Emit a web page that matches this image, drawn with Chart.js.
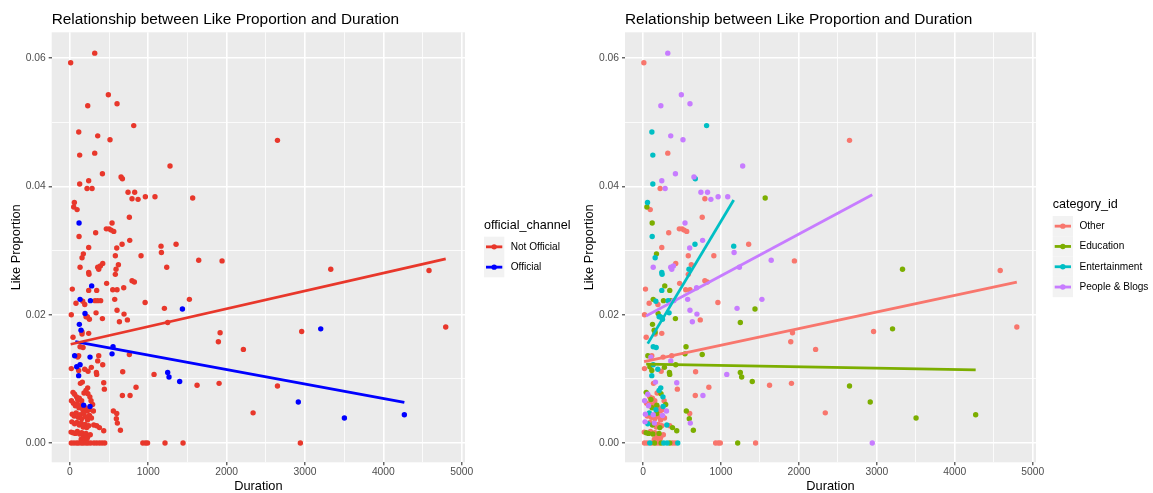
<!DOCTYPE html>
<html>
<head>
<meta charset="utf-8">
<title>Like Proportion vs Duration</title>
<script src="https://cdn.jsdelivr.net/npm/chart.js@4.4.1/dist/chart.umd.min.js"></script>
<style>
  body { margin: 0; background: #ffffff; }
  .wrap { position: relative; width: 1153px; height: 493px; }
  canvas { position: absolute; top: 0; }
</style>
</head>
<body>
<div class="wrap">
  <canvas id="byChannel" width="580" height="493" style="left:0"></canvas>
  <canvas id="byCategory" width="573" height="493" style="left:580px"></canvas>
</div>
<script>
// video duration (seconds) and share of likes per view, one entry per video
const duration = [
  10, 317, 491, 602, 228, 815, 113, 355, 512, 2649,
  125, 317, 1278, 415, 653, 670, 240, 125, 219, 283,
  742, 827, 793, 870, 963, 1086, 1567, 57, 49, 92,
  117, 759, 538, 329, 117, 465, 500, 526, 560, 764,
  240, 598, 666, 1163, 1355, 172, 155, 580, 619, 1168,
  908, 1644, 1942, 130, 240, 244, 355, 389, 419, 368,
  589, 580, 1236, 31, 342, 469, 240, 547, 602, 687,
  793, 823, 278, 130, 262, 78, 164, 321, 355, 393,
  572, 960, 1525, 1206, 1436, 18, 193, 206, 249, 223,
  334, 415, 602, 691, 734, 632, 1248, 121, 142, 155,
  155, 240, 40, 1917, 1895, 2214, 130, 168, 551, 538,
  61, 112, 100, 257, 368, 355, 759, 18, 87, 130,
  112, 112, 189, 232, 274, 338, 342, 419, 674, 1074,
  1248, 1265, 1401, 1623, 1904, 2649, 134, 159, 227, 432,
  440, 844, 670, 768, 2338, 2915, 176, 257, 555, 598,
  593, 606, 645, 432, 4583, 3329, 4796, 2958, 3201, 3503,
  4268, 2941, 190,
  40, 60, 85, 100, 120, 150, 180, 205, 230, 255,
  270, 290, 20, 45, 70, 95, 115, 140, 165, 195,
  220, 245, 300, 30, 55, 80, 105, 130, 150, 175,
  200, 225, 250, 275, 25, 60, 90, 120, 145, 170,
  195, 215, 240, 305, 342, 377, 15, 40, 70, 95,
  125, 150, 180, 205, 230, 260, 145, 170, 195, 220,
  18, 52, 86, 112, 146, 172, 206, 232, 266, 308,
  342, 377, 411, 445, 931, 965, 991, 1214, 1444
];

const likeProportion = [
  0.0593, 0.0608, 0.0543, 0.0529, 0.0526, 0.0495, 0.0485, 0.0479, 0.0473, 0.0472,
  0.0449, 0.0452, 0.0432, 0.0420, 0.0415, 0.0412, 0.0409, 0.0404, 0.0397, 0.0397,
  0.0391, 0.0391, 0.0381, 0.0380, 0.0384, 0.0384, 0.0382, 0.0375, 0.0368, 0.0364,
  0.0343, 0.0352, 0.0343, 0.0328, 0.0322, 0.0334, 0.0334, 0.0332, 0.0330, 0.0316,
  0.0305, 0.0304, 0.0310, 0.0307, 0.0310, 0.0295, 0.0289, 0.0292, 0.0278, 0.0297,
  0.0292, 0.0285, 0.0284, 0.0274, 0.0266, 0.0263, 0.0274, 0.0276, 0.0280, 0.0271,
  0.0271, 0.0263, 0.0274, 0.0240, 0.0238, 0.0249, 0.0238, 0.0239, 0.0239, 0.0242,
  0.0253, 0.0251, 0.0245, 0.0224, 0.0222, 0.0218, 0.0221, 0.0222, 0.0222, 0.0222,
  0.0224, 0.0219, 0.0224, 0.0210, 0.0209, 0.0200, 0.0202, 0.0197, 0.0193, 0.0197,
  0.0203, 0.0194, 0.0207, 0.0201, 0.0192, 0.0189, 0.0188, 0.0185, 0.0176, 0.0173,
  0.0170, 0.0171, 0.0165, 0.0172, 0.0158, 0.0146, 0.0150, 0.0149, 0.0150, 0.0139,
  0.0136, 0.0136, 0.0134, 0.0134, 0.0136, 0.0128, 0.0138, 0.0116, 0.0119, 0.0122,
  0.0113, 0.0105, 0.0115, 0.0112, 0.0118, 0.0110, 0.0107, 0.0122, 0.0111, 0.0107,
  0.0110, 0.0103, 0.0096, 0.0090, 0.0093, 0.0089, 0.0093, 0.0095, 0.0086, 0.0094,
  0.0084, 0.0087, 0.0074, 0.0074, 0.0047, 0.0064, 0.0059, 0.0057, 0.0050, 0.0046,
  0.0038, 0.0031, 0.0020, 0.0019, 0.0269, 0.0271, 0.0181, 0.0174, 0.0178, 0.0039,
  0.0044, 0, 0.0216,
  0.0079, 0.0076, 0.0072, 0.0068, 0.0070, 0.0066, 0.0078, 0.0082, 0.0077, 0.0072,
  0.0066, 0.0060, 0.0066, 0.0062, 0.0058, 0.0061, 0.0055, 0.0058, 0.0052, 0.0055,
  0.0050, 0.0052, 0.0050, 0.0045, 0.0042, 0.0047, 0.0040, 0.0044, 0.0038, 0.0046,
  0.0041, 0.0036, 0.0043, 0.0039, 0.0033, 0.0030, 0.0032, 0.0028, 0.0031, 0.0025,
  0.0029, 0.0024, 0.0027, 0.0028, 0.0027, 0.0024, 0.0017, 0.0016, 0.0015, 0.0018,
  0.0014, 0.0016, 0.0012, 0.0015, 0.0010, 0.0013, 0.0006, 0.0008, 0.0005, 0.0007,
  0, 0, 0, 0, 0, 0, 0, 0, 0, 0,
  0, 0, 0, 0, 0, 0, 0, 0, 0
];

// 0 = Not Official, 1 = Official
const official = [
  0, 0, 0, 0, 0, 0, 0, 0, 0, 0,
  0, 0, 0, 0, 0, 0, 0, 0, 0, 0,
  0, 0, 0, 0, 0, 0, 0, 0, 0, 0,
  1, 0, 0, 0, 0, 0, 0, 0, 0, 0,
  0, 0, 0, 0, 0, 0, 0, 0, 0, 0,
  0, 0, 0, 0, 0, 0, 0, 0, 0, 0,
  0, 0, 0, 0, 0, 0, 0, 0, 0, 0,
  0, 0, 1, 1, 1, 0, 0, 0, 0, 0,
  0, 0, 0, 0, 1, 0, 1, 0, 0, 0,
  0, 0, 0, 0, 0, 0, 0, 1, 1, 0,
  0, 0, 0, 0, 0, 0, 0, 0, 1, 1,
  1, 0, 0, 1, 0, 0, 0, 0, 1, 1,
  0, 1, 0, 0, 0, 0, 0, 0, 0, 0,
  1, 1, 1, 0, 0, 0, 0, 0, 0, 0,
  0, 0, 0, 0, 0, 1, 1, 1, 0, 0,
  0, 0, 0, 0, 0, 0, 0, 0, 1, 1,
  1, 0, 0,
  0, 0, 0, 0, 0, 0, 0, 0, 0, 0,
  0, 0, 0, 0, 0, 0, 0, 0, 0, 0,
  0, 0, 0, 0, 0, 0, 0, 0, 0, 0,
  0, 0, 0, 0, 0, 0, 0, 0, 0, 0,
  0, 0, 0, 0, 0, 0, 0, 0, 0, 0,
  0, 0, 0, 0, 0, 0, 0, 0, 0, 0,
  0, 0, 0, 0, 0, 0, 0, 0, 0, 0,
  0, 0, 0, 0, 0, 0, 0, 0, 0
];

// index into categoryLevels
const categoryId = [
  0, 3, 3, 3, 3, 2, 2, 3, 3, 0,
  2, 0, 3, 3, 3, 2, 3, 2, 0, 3,
  3, 3, 0, 3, 3, 3, 1, 2, 1, 0,
  1, 0, 3, 0, 2, 0, 0, 0, 0, 3,
  0, 3, 2, 2, 0, 1, 2, 0, 0, 3,
  0, 3, 0, 3, 2, 2, 3, 3, 0, 3,
  2, 0, 3, 0, 1, 0, 2, 0, 0, 3,
  0, 0, 1, 1, 1, 0, 2, 2, 1, 3,
  3, 0, 3, 3, 1, 0, 1, 2, 2, 2,
  2, 1, 3, 3, 0, 3, 1, 1, 1, 1,
  0, 0, 0, 0, 0, 0, 2, 2, 1, 1,
  1, 0, 3, 0, 0, 3, 1, 0, 1, 2,
  1, 2, 2, 0, 1, 1, 1, 1, 0, 3,
  1, 1, 1, 0, 0, 1, 0, 3, 2, 3,
  0, 0, 0, 3, 0, 1, 1, 2, 1, 0,
  1, 3, 1, 1, 0, 1, 0, 0, 1, 1,
  1, 3, 0,
  1, 3, 0, 1, 0, 0, 0, 2, 1, 2,
  0, 1, 3, 0, 3, 0, 1, 0, 2, 0,
  0, 0, 3, 3, 0, 2, 0, 3, 0, 1,
  0, 0, 3, 0, 3, 2, 0, 1, 3, 0,
  0, 1, 0, 2, 0, 1, 0, 1, 1, 0,
  1, 0, 0, 1, 0, 0, 0, 0, 0, 0,
  0, 0, 2, 0, 1, 0, 0, 1, 2, 2,
  1, 0, 0, 2, 0, 0, 0, 1, 0
];

const channelLevels = ['Not Official', 'Official'];
const channelColors = ['#e8372b', '#0000ff'];
const categoryLevels = ['Other', 'Education', 'Entertainment', 'People & Blogs'];
const categoryColors = ['#F8766D', '#7CAE00', '#00BFC4', '#C77CFF'];

// lm fit lines, start and end of each group's duration range
const channelFitX = [[10, 4796], [69, 4268]];
const channelFitY = [[0.0154, 0.0287], [0.0158, 0.00635]];
const categoryFitX = [[13, 4796], [40, 4268], [60, 1163], [38, 2941]];
const categoryFitY = [[0.0127, 0.0251], [0.0123, 0.0114], [0.0155, 0.0379], [0.0198, 0.0387]];

const xBreaks = [0, 1000, 2000, 3000, 4000, 5000];
const xMinorBreaks = [500, 1500, 2500, 3500, 4500];
const xTickLabels = ['0', '1000', '2000', '3000', '4000', '5000'];
const yBreaks = [0, 0.02, 0.04, 0.06];
const yMinorBreaks = [0.01, 0.03, 0.05];
const yTickLabels = ['0.00', '0.02', '0.04', '0.06'];

const plotTitle = 'Relationship between Like Proportion and Duration';
const FONT = "'Liberation Sans', Arial, Helvetica, sans-serif";
Chart.defaults.font.family = FONT;

// grey panel, title and ggplot-style legend
const ggPanel = {
  id: 'ggPanel',
  beforeDraw(chart) {
    const { ctx, chartArea: a } = chart;
    ctx.save();
    ctx.fillStyle = '#ebebeb';
    ctx.fillRect(a.left, a.top, a.right - a.left, a.bottom - a.top);
    ctx.restore();
  },
  afterDraw(chart, args, opts) {
    const { ctx, chartArea: a } = chart;
    const lg = opts.legend;
    ctx.save();
    ctx.textBaseline = 'middle';
    ctx.textAlign = 'left';
    ctx.fillStyle = '#000000';
    ctx.font = '15.4px ' + FONT;
    ctx.fillText(opts.title, a.left, 19.5);

    ctx.font = '12.6px ' + FONT;
    ctx.fillText(lg.title, lg.x, lg.titleY);
    const k = 20.3;
    lg.labels.forEach((label, i) => {
      const top = lg.keyTop + i * k;
      const cy = top + k / 2;
      ctx.fillStyle = '#f2f2f2';
      ctx.fillRect(lg.x, top, k, k);
      ctx.strokeStyle = lg.colors[i];
      ctx.lineWidth = 2.8;
      ctx.beginPath();
      ctx.moveTo(lg.x + 2, cy);
      ctx.lineTo(lg.x + k - 2, cy);
      ctx.stroke();
      ctx.fillStyle = lg.colors[i];
      ctx.beginPath();
      ctx.arc(lg.x + k / 2, cy, 2.7, 0, Math.PI * 2);
      ctx.fill();
      ctx.fillStyle = '#000000';
      ctx.font = '10.1px ' + FONT;
      ctx.fillText(label, lg.x + k + 6.4, cy);
    });
    ctx.restore();
  }
};

function pointsFor(groups, level) {
  const pts = [];
  duration.forEach((d, i) => {
    if (groups[i] === level) pts.push({ x: d, y: likeProportion[i] });
  });
  return pts;
}

function buildDatasets(groups, levels, colors, fitX, fitY) {
  const sets = [];
  levels.forEach((name, g) => {
    sets.push({
      label: name,
      data: pointsFor(groups, g),
      backgroundColor: colors[g],
      borderColor: colors[g],
      borderWidth: 0,
      pointRadius: 2.7,
      order: levels.length + 1 - g
    });
  });
  levels.forEach((name, g) => {
    sets.push({
      label: name + ' fit',
      data: fitX[g].map((x, j) => ({ x: x, y: fitY[g][j] })),
      showLine: true,
      borderColor: colors[g],
      borderWidth: 2.8,
      pointRadius: 0,
      fill: false,
      order: 0
    });
  });
  return sets;
}

function gridFor(breaks) {
  const major = (c) => c.tick && breaks.indexOf(c.tick.value) >= 0;
  return {
    color: '#ffffff',
    lineWidth: (c) => major(c) ? 1.6 : 0.8,
    drawTicks: true,
    tickLength: 3,
    tickWidth: 1.1,
    tickColor: (c) => major(c) ? '#333333' : 'rgba(0,0,0,0)'
  };
}

function buildChart(canvasId, setup) {
  return new Chart(document.getElementById(canvasId), {
    type: 'scatter',
    data: { datasets: setup.datasets },
    options: {
      responsive: false,
      animation: false,
      devicePixelRatio: 1,
      events: [],
      layout: { padding: { left: 0, top: 32.3, right: setup.rightPad, bottom: 0 } },
      plugins: {
        legend: { display: false },
        tooltip: { enabled: false },
        ggPanel: { title: plotTitle, legend: setup.legend }
      },
      scales: {
        x: {
          type: 'linear',
          min: -232,
          max: 5042,
          afterBuildTicks: (s) => {
            s.ticks = xBreaks.concat(xMinorBreaks).sort((a, b) => a - b).map(v => ({ value: v }));
          },
          afterFit: (s) => { s.height = 30.7; },
          ticks: {
            autoSkip: false,
            maxRotation: 0,
            padding: 1,
            color: '#4d4d4d',
            font: { size: 10.3 },
            callback: (v) => {
              const i = xBreaks.indexOf(v);
              return i < 0 ? '' : xTickLabels[i];
            }
          },
          grid: gridFor(xBreaks),
          border: { display: false },
          title: { display: true, text: 'Duration', color: '#000000', font: { size: 12.8, lineHeight: 1 }, padding: 0 }
        },
        y: {
          type: 'linear',
          min: -0.00301,
          max: 0.06405,
          afterBuildTicks: (s) => {
            s.ticks = yBreaks.concat(yMinorBreaks).sort((a, b) => a - b).map(v => ({ value: v }));
          },
          afterFit: (s) => { s.width = setup.yAxisWidth; },
          ticks: {
            autoSkip: false,
            padding: 3,
            color: '#4d4d4d',
            font: { size: 10.3 },
            callback: (v) => {
              const i = yBreaks.indexOf(v);
              return i < 0 ? '' : yTickLabels[i];
            }
          },
          grid: gridFor(yBreaks),
          border: { display: false },
          title: { display: true, text: 'Like Proportion', color: '#000000', font: { size: 12.8, lineHeight: 1.2 }, padding: { top: setup.yTitlePad, bottom: 0 } }
        }
      }
    },
    plugins: [ggPanel]
  });
}

buildChart('byChannel', {
  datasets: buildDatasets(official, channelLevels, channelColors, channelFitX, channelFitY),
  rightPad: 115,
  yAxisWidth: 51.7,
  yTitlePad: 8.6,
  legend: { title: 'official_channel', x: 484, titleY: 226, keyTop: 236.7, labels: channelLevels, colors: channelColors }
});

buildChart('byCategory', {
  datasets: buildDatasets(categoryId, categoryLevels, categoryColors, categoryFitX, categoryFitY),
  rightPad: 117,
  yAxisWidth: 45,
  yTitlePad: 1.5,
  legend: { title: 'category_id', x: 472.7, titleY: 205, keyTop: 216, labels: categoryLevels, colors: categoryColors }
});
</script>
</body>
</html>
